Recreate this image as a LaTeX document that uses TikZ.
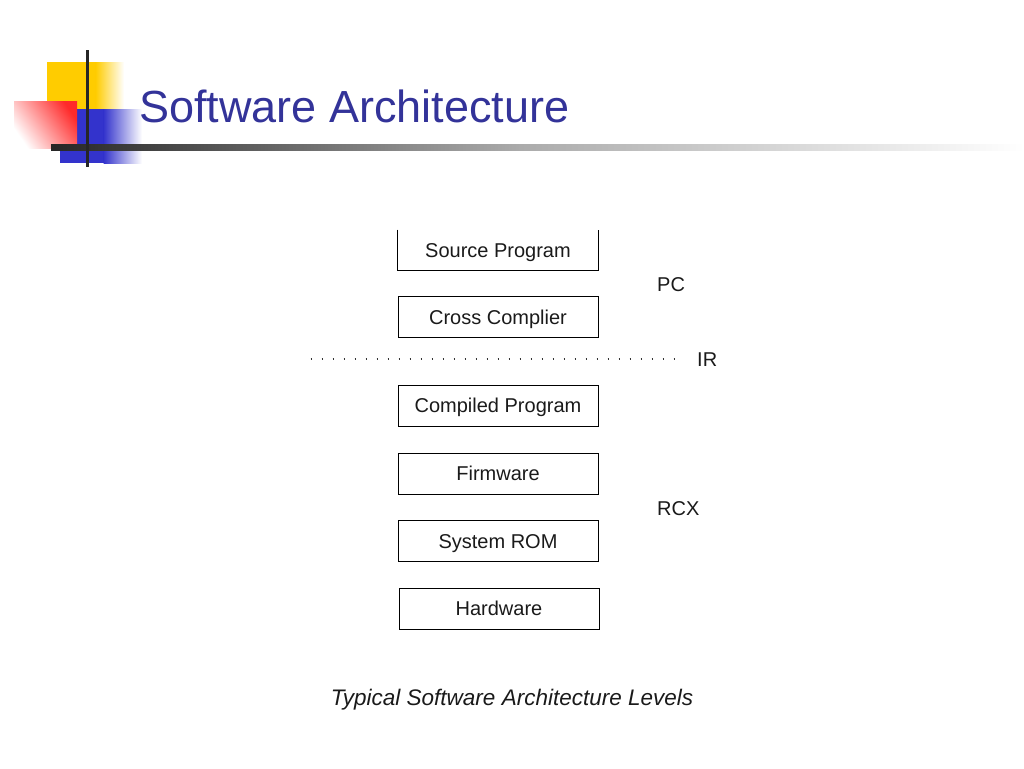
\documentclass[tikz,border=0pt]{standalone}
\usepackage{fontspec}
\setmainfont{Liberation Sans}
\definecolor{titleblue}{HTML}{333399}
\definecolor{deco yellow}{HTML}{FFCC00}
\definecolor{deco red}{HTML}{FF2A2A}
\definecolor{deco blue}{HTML}{3333CC}
\definecolor{txt}{HTML}{1A1A1A}
\tikzset{
  level/.style={draw=black, line width=1pt, minimum width=200pt, minimum height=41pt,
    inner sep=0pt, text=txt, text height=14.3pt, text depth=0pt, font=\fontsize{20}{24}\selectfont},
  side/.style={text=txt, font=\fontsize{20}{24}\selectfont, anchor=west, inner sep=0pt},
  dotline/.style={line width=2pt, black!80, dash pattern=on 1.8pt off 9.2pt},
}
\begin{document}
\begin{tikzpicture}[x=1pt,y=-1pt]
\useasboundingbox (0,0) rectangle (1024,768);
% decoration
\fill[deco yellow] (47,62) rectangle (96,110);
\shade[left color=deco yellow, right color=white] (95.5,62) rectangle (124,110);
\fill[deco blue] (60,109) rectangle (104,163);
\shade[left color=deco blue, right color=white] (103.5,109) rectangle (142,163);
\shade[shading=axis, top color=deco red, bottom color=white, shading angle=-55] (14,101) rectangle (77,148);
\shade[left color=black!85, right color=black!33] (51,144) rectangle (520,150);
\shade[left color=black!33, right color=white] (519.5,144) rectangle (1024,150);
\fill[black!85] (85.5,50) rectangle (88.5,167);
% title
\node[anchor=base west, inner sep=0pt, text=titleblue, font=\fontsize{45}{54}\selectfont] (title) at (139,122) {Software Architecture};
% levels
\node[level, draw=none, minimum height=40pt] (src) at (498,250) {Source Program};
\draw[line width=1pt] (src.north west) -- (src.south west) -- (src.south east) -- (src.north east);
\node[level] (cc) at (498,317) {Cross Complier};
\node[level] (cp) at (498,405.5) {Compiled Program};
\node[level] (fw) at (498,473.5) {Firmware};
\node[level] (rom) at (498,541) {System ROM};
\node[level] (hw) at (499,608.5) {Hardware};
% side labels
\node[side] (pc) at (657,285) {PC};
\node[side] (ir) at (697,360) {IR};
\node[side] (rcx) at (657,509) {RCX};
\coordinate (dl) at (310.5,359);
\coordinate (dr) at (675,359);
\draw[dotline] (dl) -- (dr);
% caption
\node[text=txt, font=\itshape\fontsize{22.5}{27}\selectfont, inner sep=0pt] (cap) at (512,700) {Typical Software Architecture Levels};
\end{tikzpicture}
\end{document}
